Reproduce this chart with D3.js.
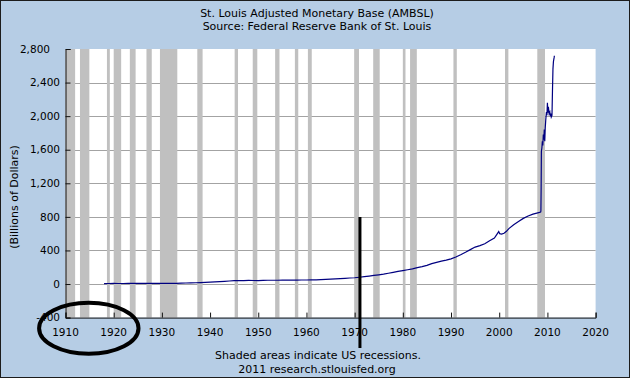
<!DOCTYPE html>
<html>
<head>
<meta charset="utf-8">
<script src="https://cdn.jsdelivr.net/npm/d3@7"></script>
<style>
  body { margin: 0; background: #fff; }
  text { font-family: "DejaVu Sans", Verdana, sans-serif; fill: #000; }
</style>
</head>
<body>
<div id="chart-area"></div>
<script>
// monetary base, billions of dollars
const years = [
  1918, 1919, 1920, 1921, 1922, 1923, 1924, 1925, 1926, 1927, 1928, 1929,
  1930, 1931, 1932, 1933, 1934, 1935, 1936, 1937, 1938, 1939, 1940, 1941,
  1942, 1943, 1944, 1945, 1946, 1947, 1948, 1949, 1950, 1951, 1952, 1953,
  1954, 1955, 1956, 1957, 1958, 1959, 1960, 1961, 1962, 1963, 1964, 1965,
  1966, 1967, 1968, 1969, 1970, 1971, 1972, 1973, 1974, 1975, 1976, 1977,
  1978, 1979, 1980, 1981, 1982, 1983, 1984, 1985, 1986, 1987, 1988, 1989,
  1990, 1991, 1992, 1993, 1994, 1995, 1996, 1997, 1998, 1999, 1999.9, 2000.1,
  2000.5, 2001, 2001.5, 2002, 2003, 2004, 2005, 2006, 2007, 2008, 2008.6, 2008.65,
  2008.7, 2008.75, 2008.85, 2008.95, 2009.05, 2009.15, 2009.25, 2009.35, 2009.45, 2009.55, 2009.65, 2009.8,
  2009.9, 2010.0, 2010.1, 2010.2, 2010.35, 2010.5, 2010.6, 2010.7, 2010.8, 2010.95, 2011.05, 2011.15,
  2011.25, 2011.4, 2011.45
]
const base = [
  5.5, 6.2, 6.8, 6.4, 6.3, 6.7, 6.9, 7.0, 7.1, 7.1, 7.1, 7.0,
  6.9, 7.3, 7.9, 8.2, 9.8, 12, 14, 15, 17, 20, 22, 25,
  28, 32, 36, 40, 41, 41, 43, 42, 41, 43, 45, 45,
  45, 46, 46, 47, 47, 48, 48, 49, 50, 52, 55, 58,
  61, 64, 68, 72, 75, 81, 88, 95, 103, 110, 118, 128,
  139, 150, 160, 170, 180, 195, 207, 222, 243, 258, 273, 284,
  300, 322, 348, 378, 410, 440, 458, 480, 515, 548, 625, 600,
  595, 605, 628, 660, 705, 745, 782, 810, 832, 848, 858, 870,
  1150, 1580, 1620, 1700, 1650, 1780, 1720, 1840, 1700, 1860, 1950, 2050,
  2010, 2160, 2040, 2110, 2030, 2050, 2000, 2030, 1990, 2010, 2300, 2560,
  2650, 2700, 2720
]

// NBER recessions shown as grey bars
const recStart = [1910.0, 1913.0, 1918.6, 1920.0, 1923.35, 1926.8, 1929.6, 1937.35, 1945.1, 1948.85, 1953.5, 1957.6, 1960.3, 1969.9, 1973.85, 1980.0, 1981.5, 1990.5, 2001.2, 2007.9]
const recEnd   = [1912.0, 1914.95, 1919.2, 1921.55, 1924.55, 1927.9, 1933.2, 1938.45, 1945.8, 1949.8, 1954.4, 1958.3, 1961.1, 1970.9, 1975.2, 1980.55, 1982.9, 1991.2, 2001.9, 2009.5]

const yTicks = [-400, 0, 400, 800, 1200, 1600, 2000, 2400, 2800]
const xTicks = [1910, 1920, 1930, 1940, 1950, 1960, 1970, 1980, 1990, 2000, 2010, 2020]

const W = 630, H = 378
const plot = { left: 65.5, right: 595.6, top: 49, bottom: 317.6 }

const svg = d3.select("#chart-area").append("svg")
    .attr("width", W)
    .attr("height", H)

// light blue backdrop with dark frame
svg.append("rect")
    .attr("x", 0.5).attr("y", 0.5)
    .attr("width", W - 1).attr("height", H - 1)
    .attr("fill", "#b6cde5")
    .attr("stroke", "#1c1c1c")

const x = d3.scaleLinear().domain([1910, 2020]).range([plot.left, plot.right])
const y = d3.scaleLinear().domain([-400, 2800]).range([plot.bottom, plot.top])

svg.append("rect")
    .attr("x", plot.left).attr("y", plot.top)
    .attr("width", plot.right - plot.left)
    .attr("height", plot.bottom - plot.top)
    .attr("fill", "#fff")

// gridlines
svg.append("g").selectAll("line")
    .data(yTicks.filter(d => d > -400 && d < 2800))
    .enter().append("line")
    .attr("x1", plot.left).attr("x2", plot.right)
    .attr("y1", d => Math.round(y(d)) + 0.5)
    .attr("y2", d => Math.round(y(d)) + 0.5)
    .attr("stroke", "#a3a3a3")

// recession bars
svg.append("g").selectAll("rect")
    .data(recStart)
    .enter().append("rect")
    .attr("x", d => x(d))
    .attr("y", plot.top)
    .attr("width", (d, i) => x(recEnd[i]) - x(d))
    .attr("height", plot.bottom - plot.top)
    .attr("fill", "#c0c0c0")

// the series
const line = d3.line()
    .x((d, i) => x(years[i]))
    .y(d => y(d))

svg.append("path")
    .datum(base)
    .attr("d", line)
    .attr("fill", "none")
    .attr("stroke", "#000080")
    .attr("stroke-width", 1.2)

// axes: left and bottom, ticks pointing inward
const yAxis = d3.axisRight(y)
    .tickValues(yTicks)
    .tickSize(5)
    .tickFormat("")
const gy = svg.append("g")
    .attr("transform", `translate(${plot.left},0)`)
    .call(yAxis)
gy.select(".domain").attr("stroke", "#111")
gy.selectAll(".tick line").attr("stroke", "#111")

const xAxis = d3.axisTop(x)
    .tickValues(xTicks)
    .tickSize(5)
    .tickFormat("")
const gx = svg.append("g")
    .attr("transform", `translate(0,${plot.bottom})`)
    .call(xAxis)
gx.select(".domain").attr("stroke", "#111")
gx.selectAll(".tick line").attr("stroke", "#111")

// tick labels
svg.append("g").selectAll("text")
    .data(yTicks)
    .enter().append("text")
    .attr("x", d => d === 2800 ? 50 : 60)
    .attr("y", d => y(d))
    .attr("dy", "0.35em")
    .attr("text-anchor", "end")
    .style("font-size", "10.5px")
    .text(d => d3.format(",")(d).replace("−", "-"))

svg.append("g").selectAll("text")
    .data(xTicks)
    .enter().append("text")
    .attr("x", d => x(d))
    .attr("y", 332)
    .attr("dy", "0.35em")
    .attr("text-anchor", "middle")
    .style("font-size", "10.5px")
    .text(d => d)

// titles
const texts = [
    ["St. Louis Adjusted Monetary Base (AMBSL)", 317, 13.5],
    ["Source: Federal Reserve Bank of St. Louis", 317, 26.5],
    ["Shaded areas indicate US recessions.", 318, 355.5],
    ["2011 research.stlouisfed.org", 317, 369]
]
svg.append("g").selectAll("text")
    .data(texts)
    .enter().append("text")
    .attr("x", d => d[1])
    .attr("y", d => d[2])
    .attr("dy", "0.35em")
    .attr("text-anchor", "middle")
    .style("font-size", "11px")
    .text(d => d[0])

svg.append("text")
    .attr("transform", "translate(14,197) rotate(-90)")
    .attr("dy", "0.35em")
    .attr("text-anchor", "middle")
    .style("font-size", "11px")
    .text("(Billions of Dollars)")

// hand-drawn annotations: marker at 1971 and circle round the 1910s
svg.append("line")
    .attr("x1", x(1971.1)).attr("x2", x(1971.1))
    .attr("y1", 217).attr("y2", 348)
    .attr("stroke", "#000")
    .attr("stroke-width", 3)

svg.append("ellipse")
    .attr("cx", 88.8).attr("cy", 328.3)
    .attr("rx", 49.7).attr("ry", 25.5)
    .attr("fill", "none")
    .attr("stroke", "#000")
    .attr("stroke-width", 4)
</script>
</body>
</html>
